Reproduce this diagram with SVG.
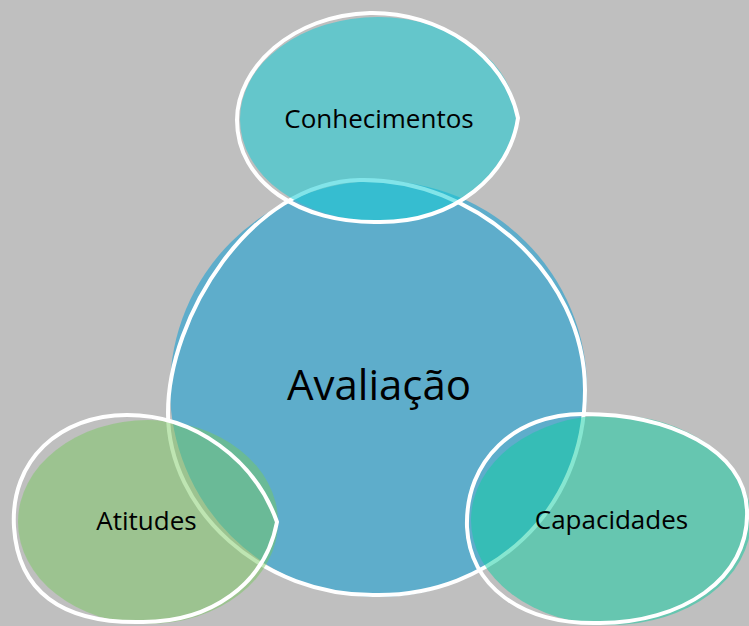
<svg xmlns="http://www.w3.org/2000/svg" width="749" height="626" viewBox="0 0 749 626">
  <style>
    .outline { fill: none; stroke: #FFFFFF; stroke-width: 4; stroke-linejoin: round; }
    .label { font-family: "Open Sans", "Noto Sans", "Liberation Sans", sans-serif; fill: #000000; text-anchor: middle; }
    .small { font-size: 26px; }
    .big { font-size: 42px; }
  </style>
  <rect x="0" y="0" width="749" height="626" fill="#BFBFBF"/>
  <g id="connectors"></g>
  <g id="avaliacao">
    <ellipse cx="378.5" cy="389" rx="208.5" ry="208" fill="#5EADCB"/>
    <path class="outline" d="M 360,180 C 472,178 585,272 585,390 C 585,512 490,596 377,595 C 262,597 168,510 168,413 C 168,318 250,182 360,180 Z"/>
    <text class="label big" x="379" y="400">Avaliação</text>
  </g>
  <g id="conhecimentos">
    <ellipse cx="378" cy="119" rx="138" ry="102" fill="rgb(19,204,213)" fill-opacity="0.53"/>
    <path class="outline" d="M 237,120 C 237,68 292,15 370,13 C 440,12 505,55 518,118 C 510,175 455,222 380,222 C 300,224 237,182 237,120 Z"/>
    <text class="label small" x="379" y="128">Conhecimentos</text>
  </g>
  <g id="atitudes">
    <ellipse cx="148" cy="522" rx="130" ry="102" fill="rgb(120,201,95)" fill-opacity="0.48"/>
    <path class="outline" d="M 14,527 C 10,460 60,415 127,415 C 195,415 255,460 277,522 C 265,585 210,622 143,622 C 60,624 18,590 14,527 Z"/>
    <text class="label small" x="146.5" y="530">Atitudes</text>
  </g>
  <g id="capacidades">
    <ellipse cx="611" cy="520" rx="140" ry="105" fill="rgb(13,205,161)" fill-opacity="0.5"/>
    <path class="outline" d="M 467,527 C 465,460 515,414 583,414 C 670,414 745,450 747,510 C 750,580 680,623 600,623 C 520,625 470,585 467,527 Z"/>
    <text class="label small" x="611.5" y="529">Capacidades</text>
  </g>
</svg>
